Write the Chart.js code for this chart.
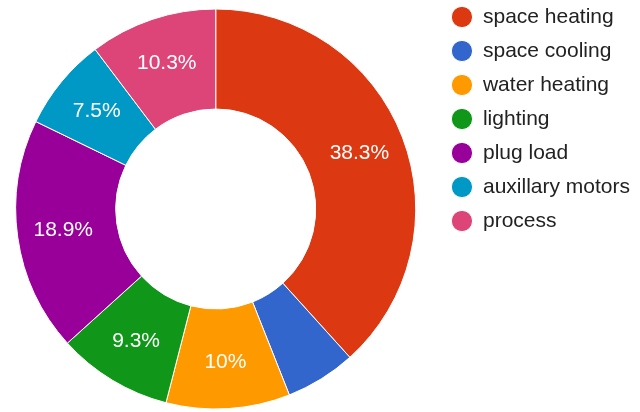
<!DOCTYPE html>
<html>
<head>
<meta charset="utf-8">
<script src="https://cdn.jsdelivr.net/npm/chart.js@4/dist/chart.umd.min.js"></script>
<style>
    html, body { margin: 0; padding: 0; background: #fff; }
    #wrap { width: 640px; height: 412px; position: relative; overflow: hidden; }
    #Chart { position: absolute; left: -7px; top: 3px; }
</style>
</head>
<body>
<div id="wrap"><canvas id="Chart"></canvas></div>
<script>
const Uses = ['space heating', 'space cooling', 'water heating', 'lighting', 'plug load', 'auxillary motors', 'process']
const Shares = [38.3, 5.7, 10, 9.3, 18.9, 7.5, 10.3]
const Colors = ['#dc3912', '#3366cc', '#ff9900', '#109618', '#990099', '#0099c6', '#dd4477']

// slices smaller than this get no label (text would not fit)
const MIN_LABEL = 6

const sliceLabels = {
    id: 'sliceLabels',
    afterDatasetsDraw(chart) {
        const ctx = chart.ctx
        const meta = chart.getDatasetMeta(0)
        ctx.save()
        ctx.font = '21px "Liberation Sans", Arial, sans-serif'
        ctx.fillStyle = '#ffffff'
        ctx.textAlign = 'center'
        ctx.textBaseline = 'middle'
        meta.data.forEach(function (arc, i) {
            if (Shares[i] < MIN_LABEL) return
            const p = arc.getProps(['x', 'y', 'startAngle', 'endAngle', 'innerRadius', 'outerRadius'])
            const mid = (p.startAngle + p.endAngle) / 2
            const r = p.innerRadius + (p.outerRadius - p.innerRadius) * 0.54
            ctx.fillText(Shares[i] + '%', p.x + Math.cos(mid) * r, p.y + Math.sin(mid) * r)
        })
        ctx.restore()
    }
}

const dataSet = {
    labels: Uses,
    datasets: [{
        data: Shares,
        backgroundColor: Colors,
        borderColor: '#ffffff',
        borderWidth: 1,
        radius: 200,
        cutout: '50%'
    }]
}

var options = {
    responsive: false,
    animation: false,
    layout: {
        // legend sits a little higher than the doughnut area
        padding: { top: -9.5, bottom: 0, left: 0, right: 0 }
    },
    plugins: {
        tooltip: { enabled: false },
        legend: {
            position: 'right',
            align: 'start',
            labels: {
                usePointStyle: true,
                pointStyle: 'circle',
                boxWidth: 21,
                boxHeight: 15,
                padding: 13,
                color: '#222222',
                font: { family: '"Liberation Sans", Arial, sans-serif', size: 21 }
            }
        }
    }
}

const canvas = document.getElementById('Chart')
canvas.width = 647
canvas.height = 412

chart = new Chart(canvas, {
    type: 'doughnut',
    data: dataSet,
    options,
    plugins: [sliceLabels]
})
</script>
</body>
</html>
